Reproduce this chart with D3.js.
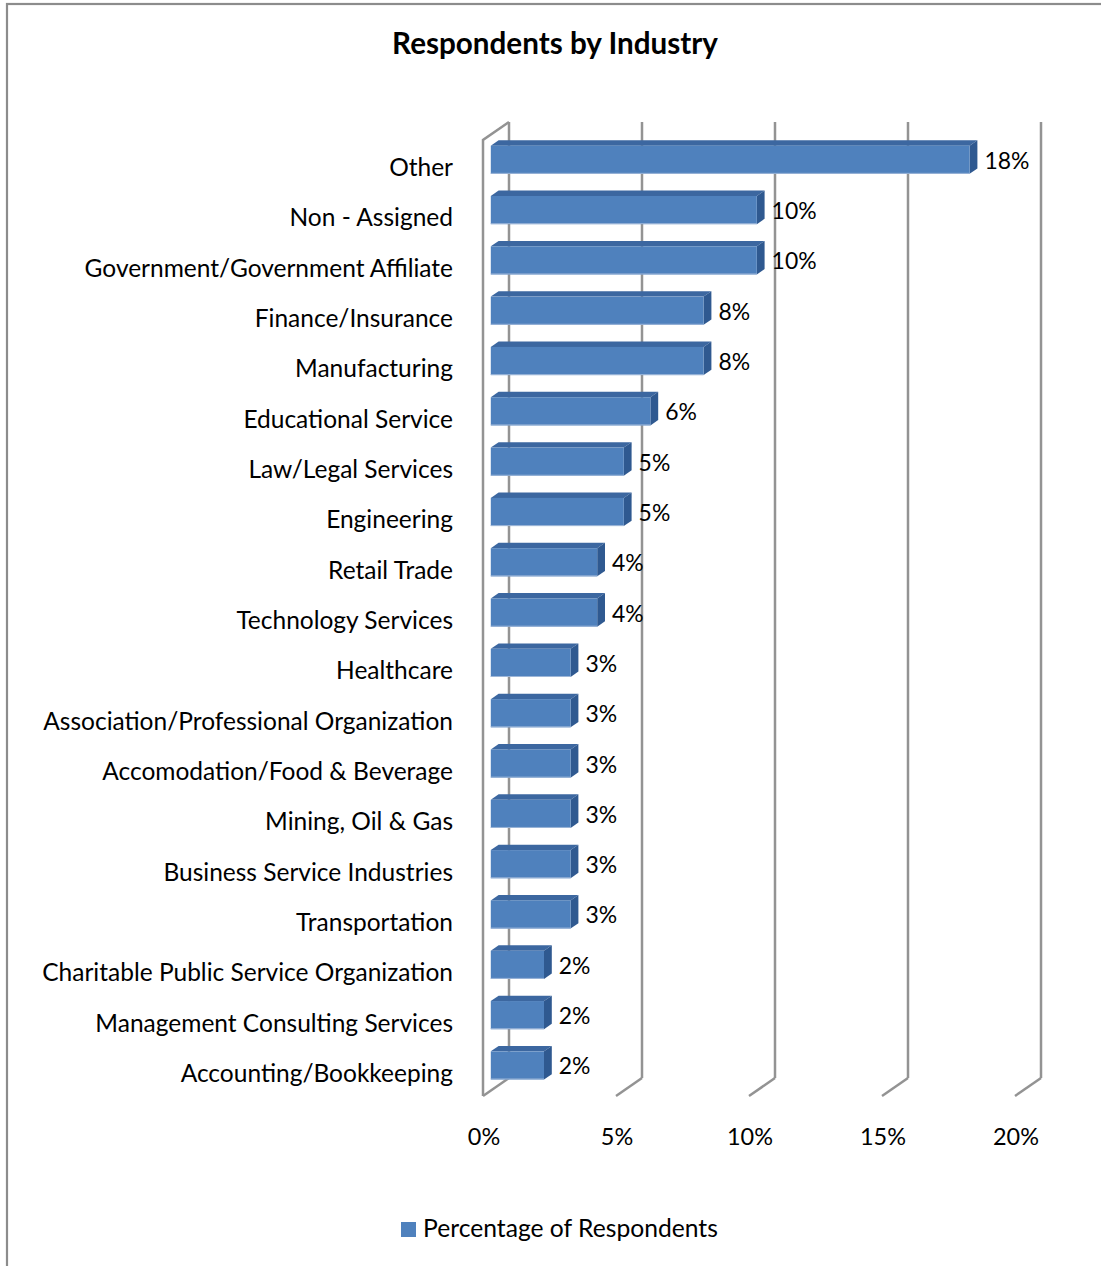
<!DOCTYPE html>
<html>
<head>
<meta charset="utf-8">
<script src="https://cdn.jsdelivr.net/npm/d3@7"></script>
<style>
  html, body { margin: 0; padding: 0; background: #fff; }
  svg { display: block; }
  text { font-family: Lato, "Open Sans", sans-serif; fill: #000; }
</style>
</head>
<body>
<svg id="chart" width="1101" height="1266"></svg>
<script>
// Industry breakdown of survey respondents
const categories = [
  "Other",
  "Non - Assigned",
  "Government/Government Affiliate",
  "Finance/Insurance",
  "Manufacturing",
  "Educational Service",
  "Law/Legal Services",
  "Engineering",
  "Retail Trade",
  "Technology Services",
  "Healthcare",
  "Association/Professional Organization",
  "Accomodation/Food & Beverage",
  "Mining, Oil & Gas",
  "Business Service Industries",
  "Transportation",
  "Charitable Public Service Organization",
  "Management Consulting Services",
  "Accounting/Bookkeeping"
];
const values = [18, 10, 10, 8, 8, 6, 5, 5, 4, 4, 3, 3, 3, 3, 3, 3, 2, 2, 2];
const tickValues = [0, 5, 10, 15, 20];
const tickLabels = ["0%", "5%", "10%", "15%", "20%"];
const seriesName = "Percentage of Respondents";
const chartTitle = "Respondents by Industry";

const svg = d3.select("#chart");

// Outer chart frame
svg.append("rect")
  .attr("x", 7).attr("y", 4)
  .attr("width", 1200).attr("height", 1400)
  .attr("fill", "none")
  .attr("stroke", "#8c8c8c")
  .attr("stroke-width", 2.2);

// Oblique depth of the 3-D plot box (front plane -> back plane)
const depthX = 26, depthY = -18;
const x = d3.scaleLinear().domain([0, 20]).range([483, 1015]);   // front plane
const y = d3.scaleBand().domain(categories).range([140, 1096]).paddingInner(0.44).paddingOuter(0.22);
const band = d3.scaleBand().domain(categories).range([140, 1096]);  // full category slots

const gridColor = "#939393";
const g = svg.append("g");

// Back-wall gridlines and floor edges
tickValues.forEach(t => {
  const fx = x(t), bx = fx + depthX;
  g.append("line")
    .attr("x1", bx).attr("y1", 140 + depthY)
    .attr("x2", bx).attr("y2", 1096 + depthY)
    .attr("stroke", gridColor).attr("stroke-width", 2.5);
  g.append("line")
    .attr("x1", bx).attr("y1", 1096 + depthY)
    .attr("x2", fx).attr("y2", 1096)
    .attr("stroke", gridColor).attr("stroke-width", 2.5);
});
// Left side wall outline
g.append("path")
  .attr("d", `M${x(0) + depthX},${140 + depthY} L${x(0)},140 L${x(0)},1096`)
  .attr("fill", "none").attr("stroke", gridColor).attr("stroke-width", 2.5)
  .attr("stroke-linejoin", "miter");

// 3-D bars: front face sits 30% into the depth, bar is 30% deep
const t0 = 0.3, tw = 0.3;
const fdx = depthX * t0, fdy = depthY * t0;
const ddx = depthX * tw, ddy = depthY * tw;
const h = y.bandwidth();

const bars = g.selectAll("g.bar")
  .data(categories.map((c, i) => ({ c, v: values[i] })))
  .join("g").attr("class", "bar");

bars.each(function (d) {
  const sel = d3.select(this);
  const xa = x(0) + fdx, xb = x(d.v) + fdx;
  const ya = y(d.c) + fdy;
  // top face
  sel.append("polygon")
    .attr("points", [[xa, ya], [xb, ya], [xb + ddx, ya + ddy], [xa + ddx, ya + ddy]].join(" "))
    .attr("fill", "#3c67a0");
  // end face
  sel.append("polygon")
    .attr("points", [[xb, ya], [xb + ddx, ya + ddy], [xb + ddx, ya + ddy + h], [xb, ya + h]].join(" "))
    .attr("fill", "#2f5990");
  // front face
  sel.append("rect")
    .attr("x", xa).attr("y", ya)
    .attr("width", xb - xa).attr("height", h)
    .attr("fill", "#4f81bd");
  sel.append("line")
    .attr("x1", xa).attr("x2", xb)
    .attr("y1", ya + h - 0.5).attr("y2", ya + h - 0.5)
    .attr("stroke", "#9db6d8").attr("stroke-width", 1);
  // value label
  sel.append("text")
    .attr("class", "val")
    .attr("x", xb + ddx + 7)
    .attr("y", ya + h / 2 + 9)
    .text(d.v + "%");
});

// Category labels
const catLabels = svg.append("g").selectAll("text")
  .data(categories)
  .join("text")
  .attr("x", 453)
  .attr("y", d => band(d) + band.bandwidth() / 2 + 11)
  .attr("text-anchor", "end")
  .text(d => d);

// Value-axis tick labels
const tickText = svg.append("g").selectAll("text")
  .data(tickValues)
  .join("text")
  .attr("x", d => x(d) + 1)
  .attr("y", 1145)
  .attr("text-anchor", "middle")
  .text((d, i) => tickLabels[i]);

// Title
const title = svg.append("text")
  .attr("x", 555).attr("y", 54)
  .attr("text-anchor", "middle")
  .attr("font-weight", "bold")
  .text(chartTitle);

// Legend
svg.append("rect")
  .attr("x", 401).attr("y", 1222)
  .attr("width", 15).attr("height", 15)
  .attr("fill", "#4f81bd");
const legendText = svg.append("text")
  .attr("x", 423).attr("y", 1237)
  .text(seriesName);

// Size each text group so its widest string spans the intended width
function fit(sel, sample, width) {
  sel.attr("font-size", 20);
  const node = sel.filter(function () { return this.textContent === sample; }).node() || sel.node();
  const w = node.getComputedTextLength();
  sel.attr("font-size", (20 * width / w).toFixed(2));
}
fit(catLabels, "Association/Professional Organization", 410);
fit(tickText, "20%", 46);
fit(svg.selectAll("text.val"), "18%", 45);
fit(title, chartTitle, 326);
fit(legendText, seriesName, 295);
</script>
</body>
</html>
